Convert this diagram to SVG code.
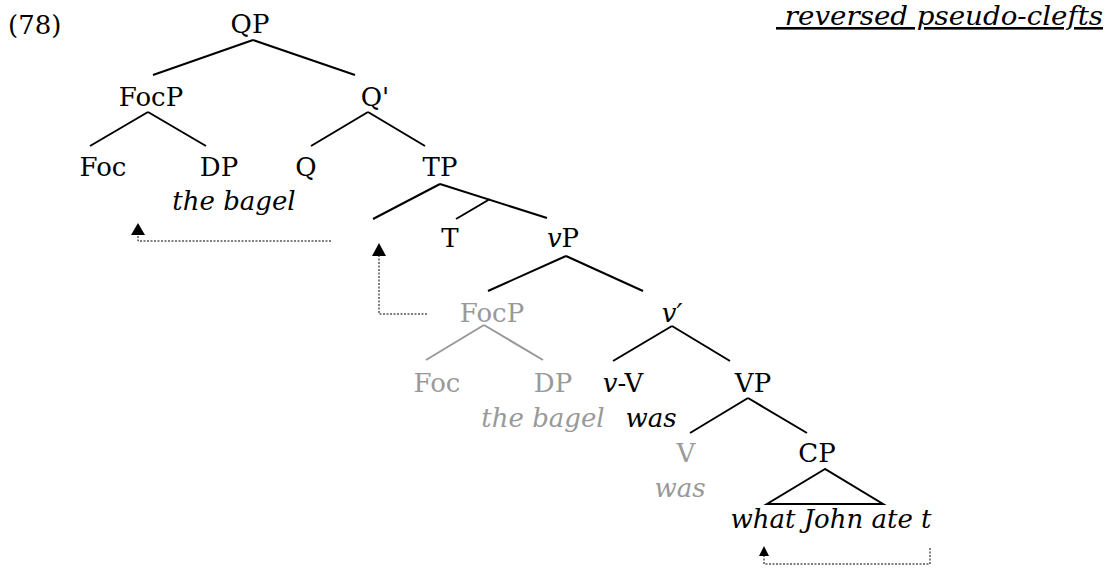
<svg xmlns="http://www.w3.org/2000/svg" width="1112" height="568" viewBox="0 0 1112 568">
<style>
text{font-family:"DejaVu Serif","Liberation Serif",serif;font-size:26px;fill:#000;text-anchor:middle}
.g{fill:#999}
.i{font-style:italic}
.e{stroke:#000;stroke-width:2;fill:none}
.eg{stroke:#999;stroke-width:2;fill:none}
.mv{stroke:#000;stroke-width:1;stroke-dasharray:2 1.5;fill:none}
.ah{fill:#000}
</style>
<rect width="1112" height="568" fill="#fff"/>
<g id="connectors">
<path class="e" d="M253,40L153,75M253,40L355,75"/>
<path class="e" d="M148,112L90,146M148,112L206,146"/>
<path class="e" d="M368,112L311,146M368,112L425,146"/>
<path class="e" d="M440,184L373,219M440,184L547,218M490,199L456,219"/>
<path class="e" d="M566,256L488,291M566,256L643,291"/>
<path class="eg" d="M484,325L426,360M484,325L543,360"/>
<path class="e" d="M672,326L613,361M672,326L730,361"/>
<path class="e" d="M748,398L690,433M748,398L807,433"/>
<path class="e" d="M825,469L767,504L883,504Z"/>
<path class="mv" d="M331,241H138V234"/>
<polygon class="ah" points="138,223 131,235 145,235"/>
<path class="mv" d="M427,314H379V256"/>
<polygon class="ah" points="379,243 372,256 386,256"/>
<path class="mv" d="M930,548V564H764V556"/>
<polygon class="ah" points="764,546 759,556 769,556"/>
</g>
<g id="label-78"><text x="8" y="34" style="text-anchor:start">(78)</text></g>
<g id="title"><text x="1103" y="25" class="i" style="text-anchor:end;text-decoration:underline" textLength="327" lengthAdjust="spacingAndGlyphs" xml:space="preserve"> reversed pseudo-clefts</text></g>
<g id="n-QP"><text x="250" y="33">QP</text></g>
<g id="n-FocP"><text x="151" y="106">FocP</text></g>
<g id="n-Qbar"><text x="375" y="106">Q'</text></g>
<g id="n-Foc"><text x="103" y="176">Foc</text></g>
<g id="n-DP"><text x="219" y="176">DP</text><text x="234" y="210" class="i">the bagel</text></g>
<g id="n-Q"><text x="306" y="176">Q</text></g>
<g id="n-TP"><text x="440" y="176">TP</text></g>
<g id="n-T"><text x="450" y="247">T</text></g>
<g id="n-vP"><text x="563" y="247"><tspan class="i">v</tspan>P</text></g>
<g id="n-FocP2"><text x="492" y="322" class="g">FocP</text></g>
<g id="n-vbar"><text x="672" y="322" class="i">v′</text></g>
<g id="n-Foc2"><text x="437" y="392" class="g">Foc</text></g>
<g id="n-DP2"><text x="553" y="392" class="g">DP</text><text x="543" y="427" class="g i">the bagel</text></g>
<g id="n-vV"><text x="623" y="392"><tspan class="i">v</tspan>-V</text><text x="651" y="427" class="i">was</text></g>
<g id="n-VP"><text x="753" y="392">VP</text></g>
<g id="n-V"><text x="686" y="462" class="g">V</text><text x="680" y="497" class="g i">was</text></g>
<g id="n-CP"><text x="817" y="462">CP</text><text x="831" y="528" class="i">what John ate t</text></g>
</svg>
